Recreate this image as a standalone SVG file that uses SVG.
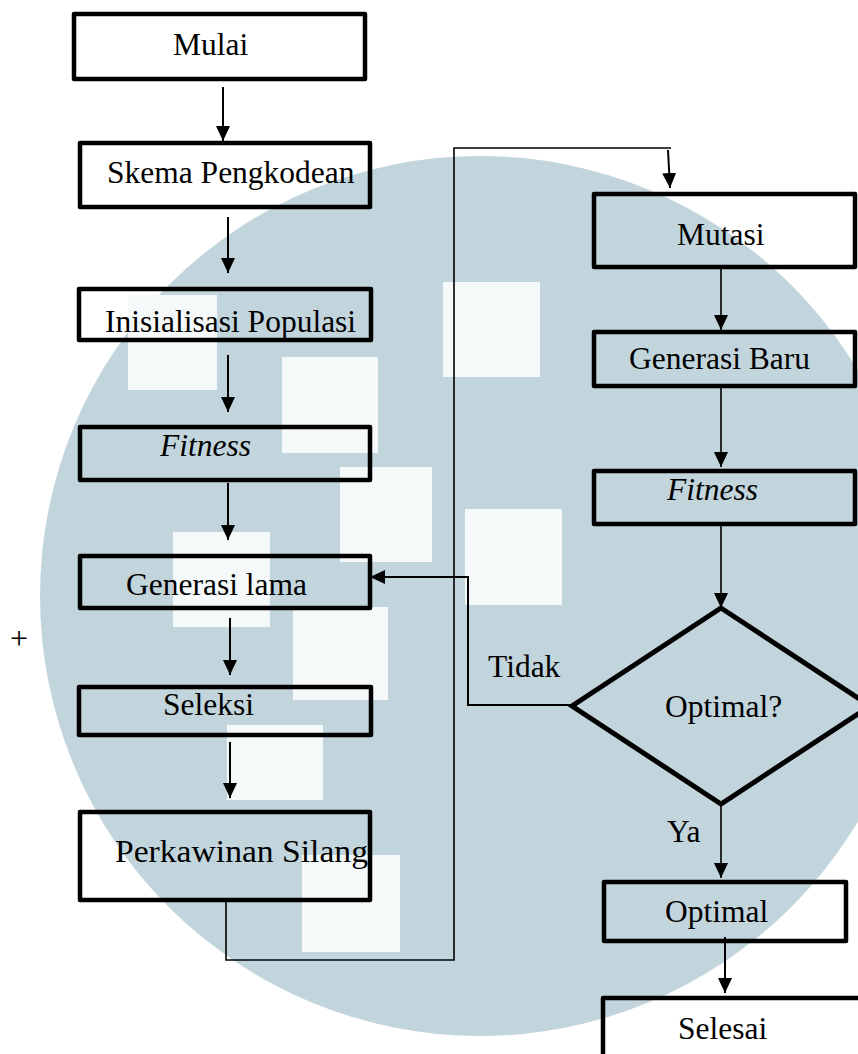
<svg xmlns="http://www.w3.org/2000/svg" width="858" height="1054" viewBox="0 0 858 1054">
<style>
.box{fill:none;stroke:#000;stroke-width:4.5;stroke-linejoin:round}
.dia{fill:none;stroke:#000;stroke-width:5;stroke-linejoin:miter}
.t{font-family:"Liberation Serif","Times New Roman",serif;font-size:31.5px;fill:#000}
.it{font-style:italic}
.ln{fill:none;stroke:#000;stroke-width:2}
.thin{fill:none;stroke:#000;stroke-width:1.6}
.wm{fill:#c2d5dc}
.sq{fill:#f6f9fa}
</style>
<defs>
<marker id="ah" markerUnits="userSpaceOnUse" markerWidth="15" markerHeight="14" refX="15" refY="7" orient="auto">
<path d="M0,0 L15,7 L0,14 z" fill="#000"/>
</marker>
</defs>
<rect width="858" height="1054" fill="#fff"/>
<g id="watermark">
<circle class="wm" cx="480" cy="596" r="440"/>
<rect class="sq" x="128" y="295" width="89" height="95"/>
<rect class="sq" x="443" y="282" width="97" height="95"/>
<rect class="sq" x="282" y="357" width="96" height="96"/>
<rect class="sq" x="340" y="467" width="92" height="95"/>
<rect class="sq" x="465" y="509" width="97" height="96"/>
<rect class="sq" x="173" y="532" width="97" height="95"/>
<rect class="sq" x="293" y="607" width="95" height="93"/>
<rect class="sq" x="227" y="725" width="96" height="75"/>
<rect class="sq" x="302" y="855" width="98" height="97"/>
</g>
<g id="connectors">
<line class="ln" x1="223" y1="87" x2="223" y2="141" marker-end="url(#ah)"/>
<line class="ln" x1="228" y1="217" x2="228" y2="273" marker-end="url(#ah)"/>
<line class="ln" x1="228" y1="355" x2="228" y2="412" marker-end="url(#ah)"/>
<line class="ln" x1="228" y1="483" x2="228" y2="540" marker-end="url(#ah)"/>
<line class="ln" x1="230" y1="618" x2="230" y2="675" marker-end="url(#ah)"/>
<line class="ln" x1="230" y1="742" x2="230" y2="798" marker-end="url(#ah)"/>
<polyline class="thin" points="226,902 226,960 454,960 454,148 671,148"/>
<line class="ln" x1="668" y1="150" x2="670" y2="188" marker-end="url(#ah)"/>
<line class="thin" x1="721" y1="269" x2="721" y2="330" marker-end="url(#ah)"/>
<line class="thin" x1="721" y1="388" x2="721" y2="467" marker-end="url(#ah)"/>
<line class="thin" x1="721" y1="526" x2="721" y2="608" marker-end="url(#ah)"/>
<line class="thin" x1="721" y1="804" x2="721" y2="878" marker-end="url(#ah)"/>
<line class="ln" x1="725" y1="937" x2="725" y2="993" marker-end="url(#ah)"/>
<polyline class="ln" points="572,705 468,705 468,577 370,577" marker-end="url(#ah)"/>
<text class="t" x="488" y="677">Tidak</text>
<text class="t" x="667" y="842">Ya</text>
</g>
<g id="mulai"><rect class="box" x="74" y="14" width="291" height="65"/><text class="t" x="173" y="55">Mulai</text></g>
<g id="skema"><rect class="box" x="80" y="143" width="290" height="64"/><text class="t" x="107" y="183">Skema Pengkodean</text></g>
<g id="inisialisasi"><rect class="box" x="79" y="289" width="292" height="51"/><text class="t" x="105" y="332">Inisialisasi Populasi</text></g>
<g id="fitness1"><rect class="box" x="80" y="427" width="290" height="53"/><text class="t it" x="160" y="456">Fitness</text></g>
<g id="generasi-lama"><rect class="box" x="80" y="556" width="290" height="52"/><text class="t" x="126" y="595">Generasi lama</text></g>
<g id="seleksi"><rect class="box" x="79" y="687" width="292" height="48"/><text class="t" x="163" y="715">Seleksi</text></g>
<g id="perkawinan"><rect class="box" x="80" y="812" width="290" height="88"/><text class="t" x="115" y="862" textLength="253" lengthAdjust="spacingAndGlyphs">Perkawinan Silang</text></g>
<g id="mutasi"><rect class="box" x="594" y="194" width="261" height="73"/><text class="t" x="677" y="245">Mutasi</text></g>
<g id="generasi-baru"><rect class="box" x="594" y="332" width="261" height="54"/><text class="t" x="629" y="369">Generasi Baru</text></g>
<g id="fitness2"><rect class="box" x="594" y="471" width="261" height="53"/><text class="t it" x="667" y="500">Fitness</text></g>
<g id="optimal-q"><polygon class="dia" points="721,608 870,706 721,804 572,706"/><text class="t" x="665" y="717">Optimal?</text></g>
<g id="optimal"><rect class="box" x="604" y="882" width="242" height="59"/><text class="t" x="665" y="922">Optimal</text></g>
<g id="selesai"><rect class="box" x="603" y="998" width="300" height="100"/><text class="t" x="678" y="1039">Selesai</text></g>
<text x="10" y="649" style="font-family:'Liberation Serif',serif;font-size:32px">+</text>
</svg>
